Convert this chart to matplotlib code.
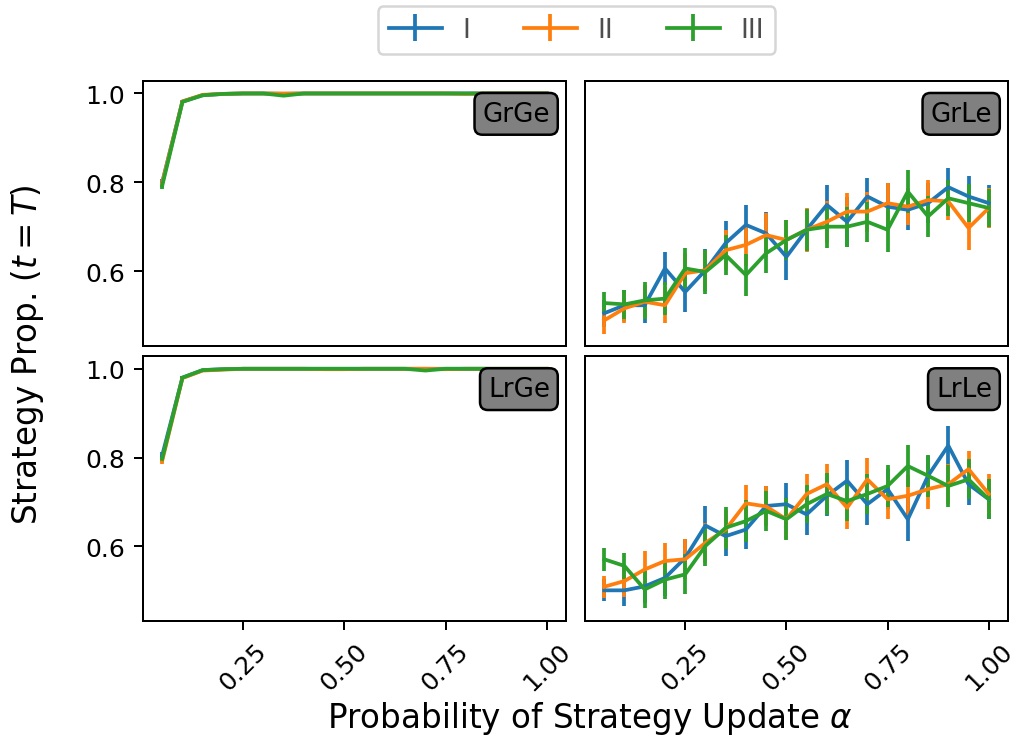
import matplotlib
matplotlib.use("Agg")
from matplotlib import pyplot as plt

alpha = [0.05, 0.10, 0.15, 0.20, 0.25, 0.30, 0.35, 0.40, 0.45, 0.50,
         0.55, 0.60, 0.65, 0.70, 0.75, 0.80, 0.85, 0.90, 0.95, 1.00]
series_names = ["I", "II", "III"]
colors = ["#1f77b4", "#ff7f0e", "#2ca02c"]
panel_names = ["GrGe", "GrLe", "LrGe", "LrLe"]

# GrGe
grge_I = [0.800, 0.982, 0.996, 0.999, 1.0, 1.0, 0.999, 1.0, 1.0, 1.0,
          1.0, 1.0, 1.0, 1.0, 1.0, 1.0, 1.0, 1.0, 1.0, 1.0]
grge_II = [0.798, 0.982, 0.997, 0.999, 1.0, 1.0, 1.0, 1.0, 1.0, 1.0,
           1.0, 1.0, 1.0, 1.0, 1.0, 0.999, 1.0, 1.0, 1.0, 1.0]
grge_III = [0.792, 0.981, 0.996, 0.999, 1.0, 1.0, 0.995, 1.0, 1.0, 1.0,
            1.0, 1.0, 1.0, 1.0, 1.0, 1.0, 1.0, 1.0, 1.0, 1.0]
grge_err = [0.008, 0.003, 0.001, 0.001, 0.0, 0.0, 0.001, 0.0, 0.0, 0.0,
            0.0, 0.0, 0.0, 0.0, 0.0, 0.0, 0.0, 0.0, 0.0, 0.0]

# LrGe
lrge_I = [0.805, 0.980, 0.997, 0.999, 1.0, 1.0, 1.0, 1.0, 1.0, 1.0,
          1.0, 1.0, 1.0, 1.0, 1.0, 1.0, 1.0, 1.0, 1.0, 1.0]
lrge_II = [0.793, 0.979, 0.996, 0.998, 1.0, 1.0, 1.0, 1.0, 0.999, 0.999,
           1.0, 1.0, 1.0, 1.0, 0.999, 1.0, 1.0, 1.0, 1.0, 1.0]
lrge_III = [0.797, 0.980, 0.997, 0.999, 1.0, 1.0, 1.0, 1.0, 1.0, 1.0,
            1.0, 1.0, 1.0, 0.996, 1.0, 1.0, 1.0, 1.0, 1.0, 1.0]
lrge_err = grge_err

# GrLe
grle_I = [0.505, 0.523, 0.523, 0.606, 0.553, 0.602, 0.663, 0.704, 0.685, 0.632,
          0.693, 0.749, 0.711, 0.768, 0.745, 0.738, 0.753, 0.789, 0.768, 0.753]
grle_II = [0.489, 0.516, 0.531, 0.523, 0.595, 0.602, 0.647, 0.659, 0.681, 0.670,
           0.693, 0.711, 0.734, 0.734, 0.753, 0.745, 0.760, 0.757, 0.697, 0.742]
grle_III = [0.528, 0.525, 0.534, 0.538, 0.606, 0.598, 0.636, 0.591, 0.640, 0.670,
            0.693, 0.700, 0.700, 0.711, 0.693, 0.779, 0.723, 0.764, 0.753, 0.742]
grle_I_err = [0.030, 0.035, 0.041, 0.038, 0.045, 0.047, 0.049, 0.045, 0.047, 0.053,
              0.045, 0.045, 0.056, 0.041, 0.053, 0.045, 0.045, 0.043, 0.045, 0.041]
grle_II_err = [0.030, 0.034, 0.038, 0.041, 0.045, 0.045, 0.045, 0.047, 0.049, 0.045,
               0.049, 0.047, 0.041, 0.045, 0.045, 0.041, 0.045, 0.041, 0.049, 0.045]
grle_III_err = [0.025, 0.033, 0.041, 0.038, 0.047, 0.050, 0.045, 0.047, 0.045, 0.044,
                0.047, 0.047, 0.045, 0.045, 0.050, 0.048, 0.046, 0.041, 0.043, 0.043]

# LrLe
lrle_I = [0.501, 0.501, 0.510, 0.529, 0.574, 0.647, 0.623, 0.638, 0.691, 0.695,
          0.672, 0.714, 0.748, 0.695, 0.729, 0.661, 0.759, 0.827, 0.740, 0.706]
lrle_II = [0.509, 0.522, 0.548, 0.567, 0.571, 0.608, 0.638, 0.697, 0.690, 0.661,
           0.718, 0.740, 0.687, 0.751, 0.706, 0.714, 0.729, 0.740, 0.774, 0.718]
lrle_III = [0.571, 0.556, 0.503, 0.525, 0.537, 0.601, 0.642, 0.657, 0.680, 0.661,
            0.695, 0.718, 0.702, 0.718, 0.736, 0.781, 0.759, 0.736, 0.751, 0.706]
lrle_I_err = [0.025, 0.035, 0.038, 0.040, 0.042, 0.045, 0.045, 0.045, 0.045, 0.047,
              0.047, 0.045, 0.047, 0.047, 0.045, 0.050, 0.045, 0.043, 0.047, 0.045]
lrle_II_err = [0.025, 0.035, 0.041, 0.041, 0.045, 0.045, 0.045, 0.041, 0.045, 0.045,
               0.045, 0.045, 0.047, 0.047, 0.045, 0.047, 0.045, 0.045, 0.041, 0.045]
lrle_III_err = [0.026, 0.030, 0.041, 0.043, 0.045, 0.045, 0.047, 0.047, 0.045, 0.047,
                0.043, 0.047, 0.045, 0.045, 0.047, 0.048, 0.047, 0.047, 0.045, 0.045]

panels = {
    "GrGe": ([grge_I, grge_II, grge_III], [grge_err, grge_err, grge_err]),
    "GrLe": ([grle_I, grle_II, grle_III], [grle_I_err, grle_II_err, grle_III_err]),
    "LrGe": ([lrge_I, lrge_II, lrge_III], [lrge_err, lrge_err, lrge_err]),
    "LrLe": ([lrle_I, lrle_II, lrle_III], [lrle_I_err, lrle_II_err, lrle_III_err]),
}

plt.rcParams['font.family'] = ['DejaVu Sans']
DPI = 180
fig, axes = plt.subplots(2, 2, sharex=True, sharey=True, figsize=(1019 / DPI, 742 / DPI), dpi=DPI)
fig.subplots_adjust(left=0.1403, right=0.9892, top=0.8895, bottom=0.1617, wspace=0.045, hspace=0.04)

handles = []
for ax, name in zip(axes.flat, panel_names):
    ys, errs = panels[name]
    for y, e, c, lab in zip(ys, errs, colors, series_names):
        h = ax.errorbar(alpha, y, yerr=e, color=c, label=lab)
        if name == "GrGe":
            handles.append(h)
    ax.text(0.962, 0.925, name, transform=ax.transAxes, ha='right', va='top', fontsize=10.5,
            bbox=dict(boxstyle='round', facecolor='gray', edgecolor='black'))

axes[1, 0].set_xticks([0.25, 0.50, 0.75, 1.00])
axes[0, 0].set_yticks([0.6, 0.8, 1.0])
for a in axes[1]:
    plt.setp(a.get_xticklabels(), rotation=45)
for a in axes[0]:
    a.tick_params(bottom=False)
for a in axes[:, 1]:
    a.tick_params(left=False)

fig.legend(handles, series_names, loc='upper center', ncol=3, bbox_to_anchor=(576.5 / 1019, 1.008),
           fontsize=10.6, labelcolor='#4d4d4d')
fig.text(590 / 1019, 1 - 719 / 742, r'Probability of Strategy Update $\alpha$', ha='center', va='center',
         fontsize=13)
fig.text(28 / 1019, 1 - 355 / 742, r'Strategy Prop. ($t=T$)', ha='center', va='center',
         rotation=90, fontsize=13)

fig.savefig("out.png", dpi=DPI)
